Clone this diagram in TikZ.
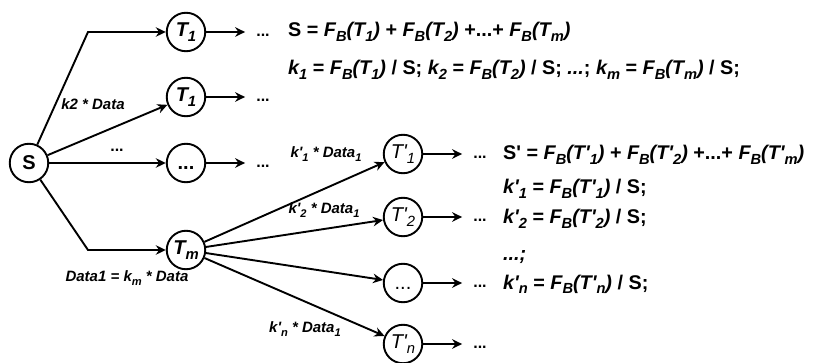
\documentclass[tikz,border=0pt]{standalone}
\usepackage{fontspec}
\usepackage{graphicx}
\setmainfont{Liberation Sans}
\usetikzlibrary{arrows.meta}
\newcommand\sbs[1]{\raisebox{-0.22em}{\scalebox{0.74}{#1}}}
\newcommand\pq{\textquotesingle}
\begin{document}
\begin{tikzpicture}[x=1pt,y=-1pt,
  circ/.style={circle,draw,line width=1.9pt,minimum size=38.5pt,inner sep=0pt,font=\fontsize{20}{22}\selectfont},
  conn/.style={line width=1.9pt,-{Stealth[length=10pt,width=9.5pt]}},
  lbl/.style={font=\bfseries\itshape\fontsize{15}{18}\selectfont,inner sep=0pt},
  eq/.style={font=\bfseries\fontsize{19.8}{24}\selectfont,anchor=base west,inner sep=0pt},
  dts/.style={font=\bfseries\fontsize{16}{18}\selectfont,inner sep=0pt}]
\useasboundingbox (0,0) rectangle (813,363);
% nodes
\node[circ] (S) at (29,163) {\textbf{S}};
\node[circ] (A) at (186,32) {\textbf{\textit{T\sbs{1}}}};
\node[circ] (B) at (186,97) {\textbf{\textit{T\sbs{1}}}};
\node[circ] (C) at (186,163) {\textbf{\vphantom{T}...}};
\node[circ] (Tm) at (186,250) {\textbf{\textit{T\sbs{m}}}};
\node[circ] (P1) at (403,154) {\textit{T\pq\sbs{1}}};
\node[circ] (P2) at (403,217) {\textit{T\pq\sbs{2}}};
\node[circ] (P3) at (403,283) {\vphantom{T}...};
\node[circ] (Pn) at (403,344) {\textit{T\pq\sbs{n}}};
% trailing dots
\node[dts] (dA) at (263,35) {...};
\node[dts] (dB) at (263,100) {...};
\node[dts] (dC) at (263,166) {...};
\node[dts] (d1) at (480,157) {...};
\node[dts] (d2) at (480,220) {...};
\node[dts] (d3) at (480,286) {...};
\node[dts] (dn) at (480,347) {...};
\foreach \n/\d in {A/dA,B/dB,C/dC,P1/d1,P2/d2,P3/d3,Pn/dn}
  \draw[conn,shorten >=11pt] (\n) -- (\n -| \d.west);
% connectors
\coordinate (c1) at (88,32);
\coordinate (c2) at (88,250);
\draw[conn] (S) -- (c1) -- (A);
\draw[conn] (S) -- (B);
\draw[conn] (S) -- (C);
\draw[conn] (S) -- (c2) -- (Tm);
\draw[conn] (Tm) -- (P1);
\draw[conn] (Tm) -- (P2);
\draw[conn] (Tm) -- (P3);
\draw[conn] (Tm) -- (Pn);
% labels
\node[lbl] (l1) at (93,104) {k2 * Data};
\node[dts] (l2) at (117,150) {...};
\node[lbl] (l3) at (127,278) {Data1 = k\sbs{m} * Data};
\node[lbl] (l4) at (326,154) {k\pq\sbs{1} * Data\sbs{1}};
\node[lbl] (l5) at (324,210) {k\pq\sbs{2} * Data\sbs{1}};
\node[lbl] (l6) at (305,329) {k\pq\sbs{n} * Data\sbs{1}};
% equations
\node[eq] (e1) at (288,37) {S = \textit{F\sbs{B}(T\sbs{1})} + \textit{F\sbs{B}(T\sbs{2})} +...+ \textit{F\sbs{B}(T\sbs{m})}};
\node[eq] (e2) at (288,75) {\textit{k\sbs{1}} = \textit{F\sbs{B}(T\sbs{1})} / S; \textit{k\sbs{2}} = \textit{F\sbs{B}(T\sbs{2})} / S; \textit{...}; \textit{k\sbs{m}} = \textit{F\sbs{B}(T\sbs{m})} / S;};
\node[eq] (e3) at (503,160) {S\pq{} = \textit{F\sbs{B}(T\pq\sbs{1})} + \textit{F\sbs{B}(T\pq\sbs{2})} +...+ \textit{F\sbs{B}(T\pq\sbs{m})}};
\node[eq] (e4) at (503,194) {\textit{k\pq\sbs{1}} = \textit{F\sbs{B}(T\pq\sbs{1})} / S;};
\node[eq] (e5) at (503,224) {\textit{k\pq\sbs{2}} = \textit{F\sbs{B}(T\pq\sbs{2})} / S;};
\node[eq] (e6) at (503,260) {\textit{...;}};
\node[eq] (e7) at (503,289) {\textit{k\pq\sbs{n}} = \textit{F\sbs{B}(T\pq\sbs{n})} / S;};
\end{tikzpicture}
\end{document}
